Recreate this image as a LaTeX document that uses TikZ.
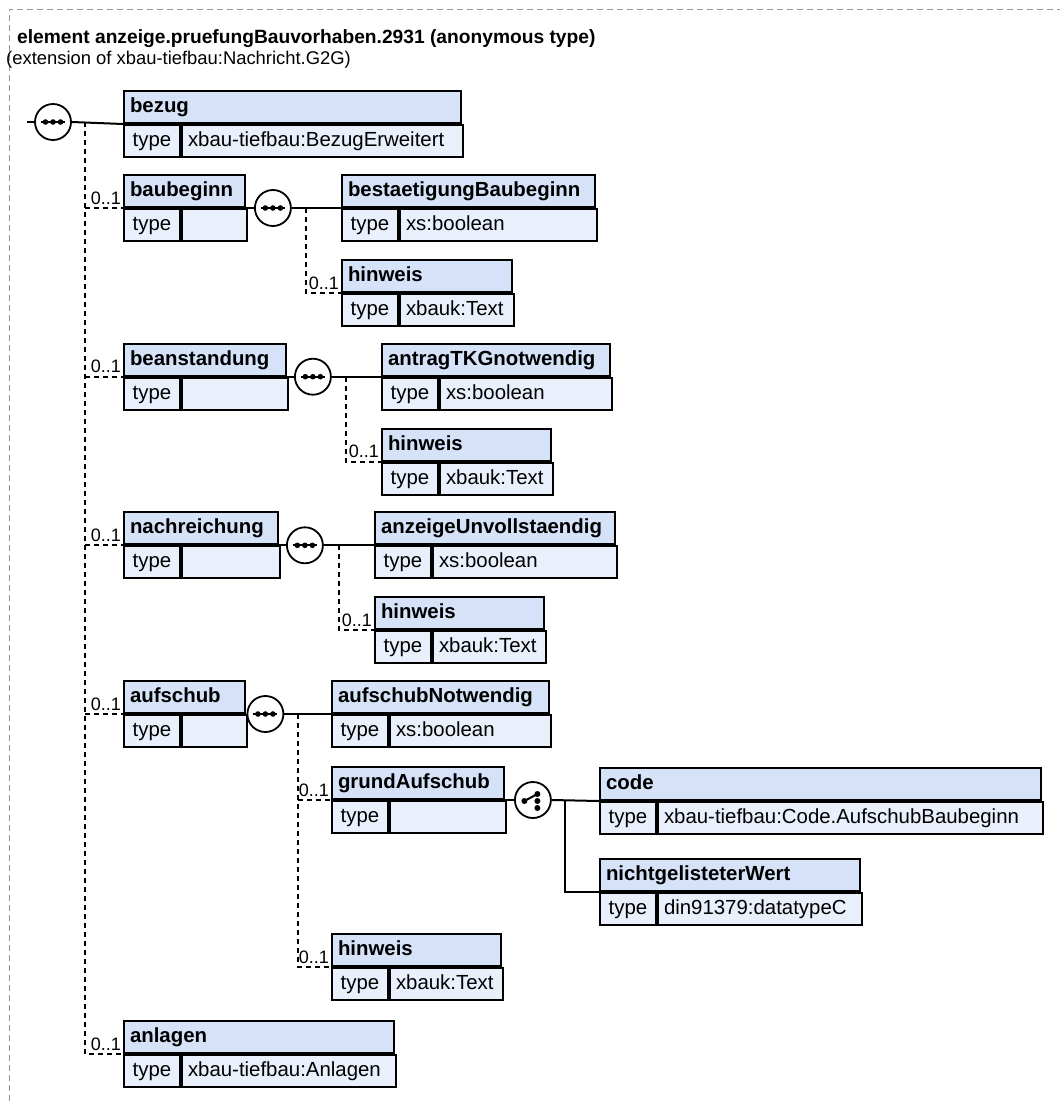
\documentclass[tikz,border=0pt]{standalone}
\usepackage{fontspec}
\setmainfont{Liberation Sans}
\usepackage{tikz}
\usetikzlibrary{positioning,calc}

\definecolor{hdrfill}{RGB}{213,226,248}
\definecolor{rowfill}{RGB}{233,240,252}
\definecolor{framegray}{RGB}{150,150,150}

% element box: name, x, y (top), width, title, type value
\newcommand{\xelem}[6]{%
  \pgfmathsetmacro\xw{#4-12}%
  \pgfmathsetmacro\xv{#4-56-12}%
  \node[hdr,text width=\xw pt] (#1) at (#2,#3) {#5};
  \node[typ] (#1-t) at (#1.south west) {type};
  \node[val,text width=\xv pt] (#1-v) at (#1-t.north east) {#6};
}

\begin{document}
\begin{tikzpicture}[x=1pt,y=-1pt,
  hdr/.style={draw,fill=hdrfill,line width=2pt,anchor=north west,align=left,
    minimum height=32pt,inner xsep=6pt,inner ysep=0pt,text height=15pt,text depth=4pt,
    font=\fontsize{20.4}{24}\selectfont\bfseries},
  typ/.style={draw,fill=rowfill,line width=2pt,anchor=north west,
    minimum width=56pt,minimum height=32pt,inner xsep=4pt,inner ysep=0pt,
    text height=15pt,text depth=4pt,font=\fontsize{20.4}{24}\selectfont},
  val/.style={draw,fill=rowfill,line width=2pt,anchor=north west,align=left,
    minimum height=32pt,inner xsep=6pt,inner ysep=0pt,text height=15pt,text depth=4pt,
    font=\fontsize{20.4}{24}\selectfont},
  card/.style={anchor=base east,xshift=-2pt,yshift=4pt,inner sep=0pt,
    font=\fontsize{18}{20}\selectfont},
  con/.style={line width=2pt},
  opt/.style={line width=2pt,dash pattern=on 5pt off 4pt},
  seq/.style={circle,draw,fill=white,line width=1.8pt,minimum size=36pt,inner sep=0pt,
    path picture={
      \draw[black,line width=2pt] ([xshift=-12pt]path picture bounding box.center)
        -- ([xshift=12pt]path picture bounding box.center);
      \fill[black] ([xshift=-7.5pt]path picture bounding box.center) circle (2.8pt);
      \fill[black] (path picture bounding box.center) circle (2.8pt);
      \fill[black] ([xshift=7.5pt]path picture bounding box.center) circle (2.8pt);}},
  choice/.style={circle,draw,fill=white,line width=1.8pt,minimum size=36pt,inner sep=0pt,
    path picture={
      \draw[black,line width=2pt] ([xshift=-8.5pt,yshift=-1pt]path picture bounding box.center)
        -- ([xshift=4.5pt,yshift=6pt]path picture bounding box.center);
      \fill[black] ([xshift=-8.5pt,yshift=-1pt]path picture bounding box.center) circle (3pt);
      \fill[black] ([xshift=4.5pt,yshift=6pt]path picture bounding box.center) circle (3pt);
      \fill[black] ([xshift=4.5pt,yshift=-1pt]path picture bounding box.center) circle (3pt);
      \fill[black] ([xshift=4.5pt,yshift=-8pt]path picture bounding box.center) circle (3pt);}}]
  \useasboundingbox (0,0) rectangle (1060,1101);
  % frame and heading
  \draw[framegray,line width=1pt,dash pattern=on 6pt off 4pt] (9,1101) -- (9,9) -- (1060,9);
  \node[anchor=base west,inner sep=0pt,font=\fontsize{19.2}{22}\selectfont\bfseries] (title)
    at (17,43) {element anzeige.pruefungBauvorhaben.2931 (anonymous type)};
  \node[anchor=base west,inner sep=0pt,font=\fontsize{18.4}{21}\selectfont] (ext)
    at (6,64) {(extension of xbau-tiefbau:Nachricht.G2G)};

  % main column
  \xelem{bezug}{123}{90}{337}{bezug}{xbau-tiefbau:BezugErweitert}
  \xelem{baubeginn}{123}{174}{121}{baubeginn}{}
  \xelem{beanstandung}{123}{342.7}{162}{beanstandung}{}
  \xelem{nachreichung}{123}{511.3}{154}{nachreichung}{}
  \xelem{aufschub}{123}{680}{121}{aufschub}{}
  \xelem{anlagen}{123}{1020}{270}{anlagen}{xbau-tiefbau:Anlagen}

  % children
  \xelem{bestB}{341}{174}{253}{bestaetigungBaubeginn}{xs:boolean}
  \xelem{hinweisA}{341}{259}{170}{hinweis}{xbauk:Text}
  \xelem{antragTKG}{381}{342.7}{228}{antragTKGnotwendig}{xs:boolean}
  \xelem{hinweisB}{381}{427.7}{169}{hinweis}{xbauk:Text}
  \xelem{anzeigeU}{374}{511.3}{240}{anzeigeUnvollstaendig}{xs:boolean}
  \xelem{hinweisC}{374}{596.3}{169}{hinweis}{xbauk:Text}
  \xelem{aufschubN}{331}{680}{217}{aufschubNotwendig}{xs:boolean}
  \xelem{grundA}{331}{766}{172}{grundAufschub}{}
  \xelem{hinweisD}{331}{933}{169}{hinweis}{xbauk:Text}
  \xelem{code}{599}{767}{441}{code}{xbau-tiefbau:Code.AufschubBaubeginn}
  \xelem{nichtgW}{599}{858}{260}{nichtgelisteterWert}{din91379:datatypeC}

  % root sequence
  \coordinate (root) at (27,122);
  \node[seq] (s0) at (53,122) {};
  \draw[con] (root) -- (s0.west);
  \draw[con] (s0.east) -- (bezug.south west);
  \coordinate (v0) at (85,122);
  \draw[opt] (v0) |- (anlagen.south west);
  \draw[opt] (v0 |- baubeginn.south west) -- (baubeginn.south west);
  \draw[opt] (v0 |- beanstandung.south west) -- (beanstandung.south west);
  \draw[opt] (v0 |- nachreichung.south west) -- (nachreichung.south west);
  \draw[opt] (v0 |- aufschub.south west) -- (aufschub.south west);
  \node[card] (baubeginn-c) at (baubeginn.south west) {0..1};
  \node[card] (beanstandung-c) at (beanstandung.south west) {0..1};
  \node[card] (nachreichung-c) at (nachreichung.south west) {0..1};
  \node[card] (aufschub-c) at (aufschub.south west) {0..1};
  \node[card] (anlagen-c) at (anlagen.south west) {0..1};

  % baubeginn
  \node[seq,right=8pt of baubeginn.south east] (s1) {};
  \draw[con] (baubeginn.south east) -- (s1.west);
  \draw[con] (s1.east) -- (bestB.south west);
  \coordinate[right=14pt of s1.east] (v1);
  \draw[opt] (v1) |- (hinweisA.south west);
  \node[card] (hinweisA-c) at (hinweisA.south west) {0..1};

  % beanstandung
  \node[seq,right=7pt of beanstandung.south east] (s2) {};
  \draw[con] (beanstandung.south east) -- (s2.west);
  \draw[con] (s2.east) -- (antragTKG.south west);
  \coordinate[right=14pt of s2.east] (v2);
  \draw[opt] (v2) |- (hinweisB.south west);
  \node[card] (hinweisB-c) at (hinweisB.south west) {0..1};

  % nachreichung
  \node[seq,right=7pt of nachreichung.south east] (s3) {};
  \draw[con] (nachreichung.south east) -- (s3.west);
  \draw[con] (s3.east) -- (anzeigeU.south west);
  \coordinate[right=15pt of s3.east] (v3);
  \draw[opt] (v3) |- (hinweisC.south west);
  \node[card] (hinweisC-c) at (hinweisC.south west) {0..1};

  % aufschub
  \node[seq,right=0.5pt of aufschub.south east] (s4) {};
  \draw[con] (s4.east) -- (aufschubN.south west);
  \coordinate[right=14pt of s4.east] (v4);
  \draw[opt] (v4) |- (hinweisD.south west);
  \draw[opt] (v4 |- grundA.south west) -- (grundA.south west);
  \node[card] (grundA-c) at (grundA.south west) {0..1};
  \node[card] (hinweisD-c) at (hinweisD.south west) {0..1};

  % choice of grundAufschub
  \node[choice,right=9pt of grundA.south east] (ch) {};
  \draw[con] (grundA.south east) -- (ch.west);
  \draw[con] (ch.east) -- (code.south west);
  \coordinate[right=13pt of ch.east] (cv);
  \draw[con] (cv) |- (nichtgW.south west);
\end{tikzpicture}
\end{document}
